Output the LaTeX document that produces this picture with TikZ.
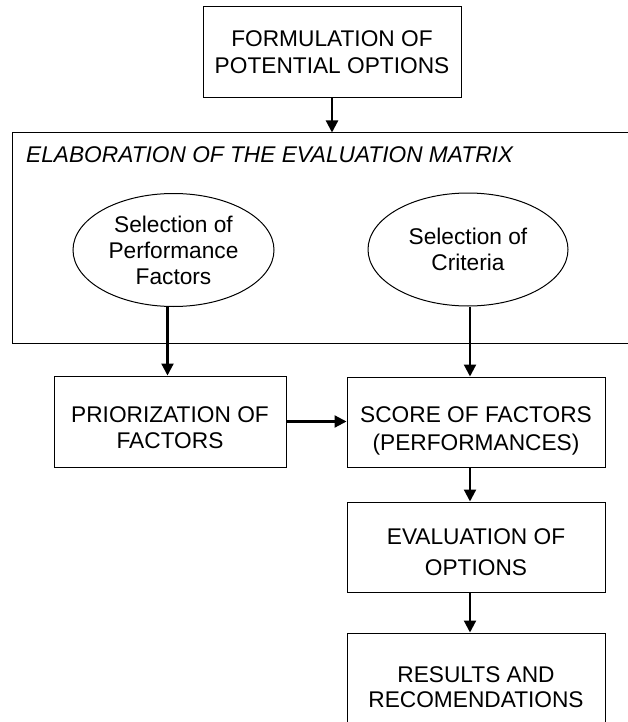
\documentclass[tikz,border=0pt]{standalone}
\usepackage{fontspec}
\setmainfont{Liberation Sans}
\usetikzlibrary{arrows.meta,shapes.geometric}
\begin{document}
\begin{tikzpicture}[x=1pt,y=-1pt,
  panel/.style={draw, line width=1pt, rectangle, inner sep=0pt},
  oval/.style={draw, line width=1pt, ellipse, inner sep=0pt, align=center,
    font=\fontsize{22.7}{26}\selectfont},
  txt/.style={align=center, inner sep=0pt, font=\fontsize{22.7}{#1}\selectfont},
  flow/.style={line width=2.2pt, -{Triangle[length=12pt,width=12pt]}}]
\useasboundingbox (0,0) rectangle (627,722);

% process boxes (drawn empty, captions placed below)
\node[panel, minimum width=258, minimum height=91] (formul) at (332,52.5) {};
\node[panel, minimum width=633, minimum height=210] (matrix) at (328.5,238) {};
\node[panel, minimum width=232, minimum height=91] (prior) at (170,421.5) {};
\node[panel, minimum width=258, minimum height=90] (score) at (476,422) {};
\node[panel, minimum width=258, minimum height=90] (evalopt) at (476,547) {};
\node[panel, minimum width=258, minimum height=107] (results) at (476,686.5) {};

% captions (positive yshift points up on the page)
\node[txt=27] at (formul.center) {FORMULATION OF\\POTENTIAL OPTIONS};
\node[txt=27, anchor=west, font=\fontsize{22.7}{27}\selectfont\itshape] (mtitle) at (26,155)
  {ELABORATION OF THE EVALUATION MATRIX};
\node[txt=26] at ([yshift=-6.5]prior.center) {PRIORIZATION OF\\FACTORS};
\node[txt=28] at ([yshift=-8.5]score.center) {SCORE OF FACTORS\\(PERFORMANCES)};
\node[txt=31] at ([yshift=-5.5]evalopt.center) {EVALUATION OF\\OPTIONS};
\node[txt=25] at (476,687.5) {RESULTS AND\\RECOMENDATIONS};

% selection ovals inside the matrix frame
\node[oval, minimum width=201, minimum height=113] (selperf) at (173.5,250)
  {Selection of\\Performance\\Factors};
\node[oval, minimum width=200, minimum height=113] (selcrit) at (468,249.5)
  {Selection of\\Criteria};

% connectors
\coordinate (colL) at (167.5,0);
\coordinate (colR) at (470,0);
\draw[flow] (formul.south) -- (formul.south |- matrix.north);
\draw[flow] (selperf.south -| colL) -- (prior.north -| colL);
\draw[flow] (selcrit.south -| colR) -- (score.north -| colR);
\draw[flow] (prior.east) -- (prior.east -| score.west);
\draw[flow] (score.south -| colR) -- (evalopt.north -| colR);
\draw[flow] (evalopt.south -| colR) -- (results.north -| colR);
\end{tikzpicture}
\end{document}
